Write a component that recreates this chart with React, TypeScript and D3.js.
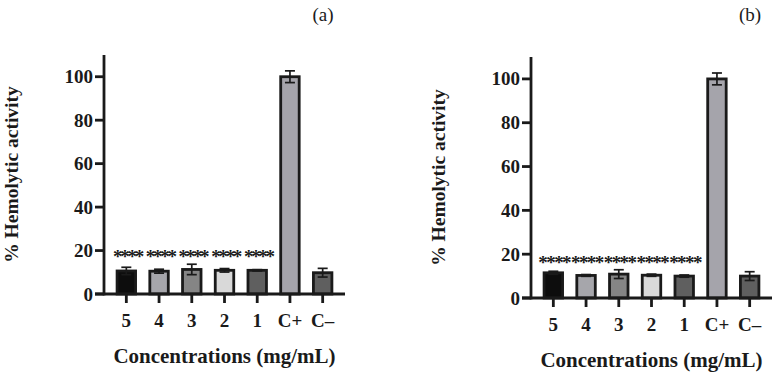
import * as d3 from 'd3';

const categories = ['5', '4', '3', '2', '1', 'C+', 'C–'];
const barColors = ['#0d0d0d', '#a6a6ab', '#858585', '#d9d9d9', '#5f5f5f', '#a5a4ab', '#5f5f5f'];
const yTicks = [0, 20, 40, 60, 80, 100];

// panel (a)
const meansA = [10.6, 10.5, 11.3, 10.9, 10.9, 100, 9.8];
const errorsA = [1.7, 0.9, 2.4, 0.8, 0.3, 2.7, 2.0];
const starsA = ['****', '****', '****', '****', '****', '', ''];

// panel (b)
const meansB = [11.5, 10.3, 10.9, 10.4, 10.0, 100, 10.0];
const errorsB = [0.7, 0.4, 2.0, 0.5, 0.5, 2.7, 2.0];
const starsB = ['****', '****', '****', '****', '****', '', ''];

const FONT = '"Liberation Serif", "DejaVu Serif", serif';
const INK = '#1a1a1a';

interface PanelProps {
    means: number[];
    errors: number[];
    stars: string[];
    starLevel: number;
    starSpacing: number;
    axisX: number;
    top: number;
    bottom: number;
    label: string;
    labelX: number;
}

function Panel({ means, errors, stars, starLevel, starSpacing, axisX, top, bottom, label, labelX }: PanelProps) {
    const plotWidth = 241;
    const tick = 9;

    const y = d3.scaleLinear().domain([0, 110]).range([bottom, top]);
    const x = d3.scaleBand<string>()
        .domain(categories)
        .range([axisX, axisX + plotWidth])
        .paddingInner(0.435)
        .paddingOuter(0.4);
    const bw = x.bandwidth();
    const capW = 10;

    return (
        <g>
            {/* bars */}
            {categories.map((c, i) => (
                <rect key={c} x={x(c)} y={y(means[i])} width={bw} height={y(0) - y(means[i])}
                    fill={barColors[i]} stroke={INK} strokeWidth={2.8} />
            ))}
            {/* error bars */}
            {categories.map((c, i) => {
                const cx = (x(c) as number) + bw / 2;
                const hi = y(means[i] + errors[i]);
                const lo = y(means[i] - errors[i]);
                return (
                    <g key={c} stroke={INK} strokeWidth={1.7}>
                        <line x1={cx} x2={cx} y1={hi} y2={lo} />
                        <line x1={cx - capW / 2} x2={cx + capW / 2} y1={hi} y2={hi} />
                        <line x1={cx - capW / 2} x2={cx + capW / 2} y1={lo} y2={lo} />
                    </g>
                );
            })}
            {/* significance stars */}
            {categories.map((c, i) => (
                <text key={c} x={(x(c) as number) + bw / 2 - starSpacing / 2} y={y(starLevel) + 9}
                    textAnchor="middle" fontFamily={FONT} fontWeight="bold" fontSize={19}
                    letterSpacing={starSpacing} fill={INK}>
                    {stars[i]}
                </text>
            ))}
            {/* y axis */}
            <line x1={axisX} x2={axisX} y1={top} y2={bottom + 1.4} stroke={INK} strokeWidth={2.8} />
            {yTicks.map(t => (
                <g key={t}>
                    <line x1={axisX - tick} x2={axisX} y1={y(t)} y2={y(t)} stroke={INK} strokeWidth={2.8} />
                    <text x={axisX - tick - 2} y={y(t) + 6.5} textAnchor="end" fontFamily={FONT}
                        fontWeight="bold" fontSize={19} fill={INK}>{t}</text>
                </g>
            ))}
            {/* x axis */}
            <line x1={axisX - tick} x2={axisX + plotWidth} y1={bottom} y2={bottom} stroke={INK} strokeWidth={2.8} />
            {categories.map(c => {
                const cx = (x(c) as number) + bw / 2;
                return (
                    <g key={c}>
                        <line x1={cx} x2={cx} y1={bottom} y2={bottom + tick} stroke={INK} strokeWidth={2.8} />
                        <text x={cx} y={bottom + 33} textAnchor="middle" fontFamily={FONT}
                            fontWeight="bold" fontSize={19} fill={INK}>{c}</text>
                    </g>
                );
            })}
            <text x={axisX + plotWidth / 2} y={bottom + 69} textAnchor="middle" fontFamily={FONT}
                fontWeight="bold" fontSize={21} fill={INK}>Concentrations (mg/mL)</text>
            <text transform={`translate(${axisX - 86},${(top + bottom) / 2}) rotate(-90)`} textAnchor="middle"
                fontFamily={FONT} fontWeight="bold" fontSize={19.5} fill={INK}>% Hemolytic activity</text>
            <text x={labelX} y={21} textAnchor="middle" fontFamily={FONT} fontSize={19} fill={INK}>{label}</text>
        </g>
    );
}

export default function App() {
    return (
        <svg width={779} height={379} style={{ position: 'absolute', left: 0, top: 0, background: '#fff' }}>
            <rect width={779} height={379} fill="#fff" />
            <Panel means={meansA} errors={errorsA} stars={starsA} starLevel={18.5} starSpacing={-2.3}
                axisX={104} top={55} bottom={294} label="(a)" labelX={323} />
            <Panel means={meansB} errors={errorsB} stars={starsB} starLevel={17.5} starSpacing={-1.6}
                axisX={531} top={57} bottom={298} label="(b)" labelX={750} />
        </svg>
    );
}
